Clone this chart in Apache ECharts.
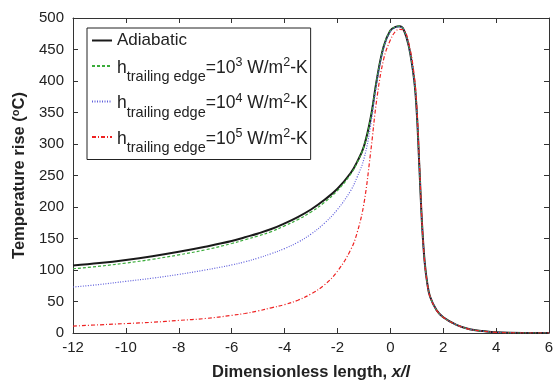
<!DOCTYPE html>
<html>
<head>
<meta charset="utf-8">
<script src="https://cdn.jsdelivr.net/npm/echarts@6/dist/echarts.min.js"></script>
<style>
  html, body { margin: 0; padding: 0; background: #fff; }
  #chart { width: 556px; height: 381px; }
</style>
</head>
<body>
<div id="chart"></div>
<script>
// x positions (dimensionless length x/l)
const xs = [-12, -11, -10, -9, -8, -7, -6, -5.5, -5, -4.5, -4, -3.5, -3, -2.5, -2, -1.5, -1.25, -1,
  -0.75, -0.5, -0.25, 0, 0.2, 0.35, 0.5, 0.7, 0.9, 1.0, 1.1, 1.2, 1.3, 1.4, 1.5, 1.75,
  2, 2.5, 3, 3.5, 4, 5, 6];

// temperature rise (C)
const adiabatic = [107, 111, 116, 122, 129, 137, 146, 152, 158, 165, 174, 184, 196, 211, 229, 254, 272, 296,
  340, 405, 455, 480, 486, 487, 482, 455, 402, 350, 262, 172, 112, 78, 58, 36,
  25, 13, 6, 3, 1, 0, 0];
const h1e3 = [102, 106, 111, 117, 124, 132, 142, 148, 154, 161, 170, 180, 192, 207, 226, 252, 271, 296,
  340, 405, 455, 480, 486, 487, 482, 455, 402, 350, 262, 172, 112, 78, 58, 36,
  25, 13, 6, 3, 1, 0, 0];
const h1e4 = [73, 77, 82, 87, 93, 100, 108, 113, 119, 126, 134, 144, 157, 174, 196, 226, 248, 276,
  328, 400, 452, 478, 485, 486, 482, 455, 402, 350, 262, 172, 112, 78, 58, 36,
  25, 13, 6, 3, 1, 0, 0];
const h1e5 = [11, 13, 15, 17, 20, 23, 28, 31, 35, 40, 45, 52, 62, 76, 98, 132, 160, 205,
  285, 375, 435, 465, 479, 482, 481, 460, 410, 360, 270, 174, 112, 78, 58, 36,
  25, 13, 6, 3, 1, 0, 0];

const seriesNames = ["Adiabatic", "h1e3", "h1e4", "h1e5"];
const exponents = { h1e3: "3", h1e4: "4", h1e5: "5" };

const pairs = (vals) => xs.map((x, i) => [x, vals[i]]);

const chart = echarts.init(document.getElementById("chart"), null, { renderer: "canvas" });

const font = "Liberation Sans, Arial, sans-serif";
const axisColor = "#333";
const textColor = "#222";

const baseLine = (name, vals, color, width, type, z) => ({
  name: name,
  type: "line",
  data: pairs(vals),
  symbol: "none",
  smooth: 0.4,
  z: z,
  lineStyle: { color: color, width: width, type: type },
  itemStyle: { color: color },
  emphasis: { disabled: true },
});

const tickCommon = { inside: true, length: 5, lineStyle: { color: axisColor } };
const lineCommon = { onZero: false, lineStyle: { color: axisColor, width: 1 } };

const option = {
  animation: false,
  backgroundColor: "#fff",
  grid: { left: 73, right: 7, top: 18, bottom: 48, outerBoundsMode: "none" },
  legend: {
    orient: "vertical",
    left: 87,
    top: 28,
    padding: [4, 3, 4, 4],
    itemGap: 6,
    itemWidth: 20,
    itemHeight: 12,
    itemTextGap: 1,
    borderColor: "#222",
    borderWidth: 1,
    backgroundColor: "#fff",
    itemStyle: { opacity: 0, color: "rgba(0,0,0,0)", borderWidth: 0 },
    data: seriesNames,
    formatter: (name) => {
      if (name === "Adiabatic") return "{a|Adiabatic}";
      return "{n|h}{sub|trailing edge}{n|=10}{sup|" + exponents[name] + "}{n| W/m}{sup|2}{n|-K}";
    },
    textStyle: {
      fontFamily: font,
      color: textColor,
      rich: {
        a: { fontFamily: font, fontSize: 17, lineHeight: 17, color: textColor },
        n: { fontFamily: font, fontSize: 17.5, lineHeight: 22, padding: [4, 0, 0, 0], verticalAlign: "top", color: textColor },
        sub: { fontFamily: font, fontSize: 14.5, lineHeight: 10, padding: [14.5, 0, 0, 0], verticalAlign: "top", color: textColor },
        sup: { fontFamily: font, fontSize: 12.5, lineHeight: 8, padding: [1.5, 0, 0, 0], verticalAlign: "top", color: textColor },
      },
    },
  },
  xAxis: [
    {
      type: "value",
      min: -12,
      max: 6,
      interval: 2,
      name: "{n|Dimensionless length, }{i|x/l}",
      nameLocation: "middle",
      nameGap: 31,
      nameTextStyle: {
        rich: {
          n: { fontFamily: font, fontSize: 16.5, fontWeight: "bold", color: textColor },
          i: { fontFamily: font, fontSize: 16.5, fontWeight: "bold", fontStyle: "italic", color: textColor },
        },
      },
      splitLine: { show: false },
      axisLine: lineCommon,
      axisTick: tickCommon,
      axisLabel: { fontFamily: font, fontSize: 15, color: textColor, margin: 7 },
    },
    {
      type: "value",
      position: "top",
      min: -12,
      max: 6,
      interval: 2,
      splitLine: { show: false },
      axisLine: lineCommon,
      axisTick: tickCommon,
      axisLabel: { show: false },
    },
  ],
  yAxis: [
    {
      type: "value",
      min: 0,
      max: 500,
      interval: 50,
      name: "{t|Temperature rise (}{s|o}{t|C)}",
      nameLocation: "middle",
      nameGap: 45,
      nameTextStyle: {
        rich: {
          t: { fontFamily: font, fontSize: 16.5, lineHeight: 18, fontWeight: "bold", verticalAlign: "bottom", color: textColor },
          s: { fontFamily: font, fontSize: 11, lineHeight: 18, fontWeight: "bold", verticalAlign: "top", color: textColor },
        },
      },
      splitLine: { show: false },
      axisLine: { show: true, ...lineCommon },
      axisTick: { show: true, ...tickCommon },
      axisLabel: { fontFamily: font, fontSize: 15, color: textColor, margin: 9 },
    },
    {
      type: "value",
      position: "right",
      min: 0,
      max: 500,
      interval: 50,
      splitLine: { show: false },
      axisLine: { show: true, ...lineCommon },
      axisTick: { show: true, ...tickCommon },
      axisLabel: { show: false },
    },
  ],
  series: [
    baseLine("Adiabatic", adiabatic, "#1a1a1a", 2, "solid", 2),
    baseLine("h1e3", h1e3, "#3aac3a", 1.2, [3, 2], 3),
    baseLine("h1e4", h1e4, "#6060dc", 1.2, [1, 1.5], 4),
    baseLine("h1e5", h1e5, "#ee2222", 1.2, [4, 2, 1, 2], 5),
  ],
};

chart.setOption(option);
</script>
</body>
</html>
